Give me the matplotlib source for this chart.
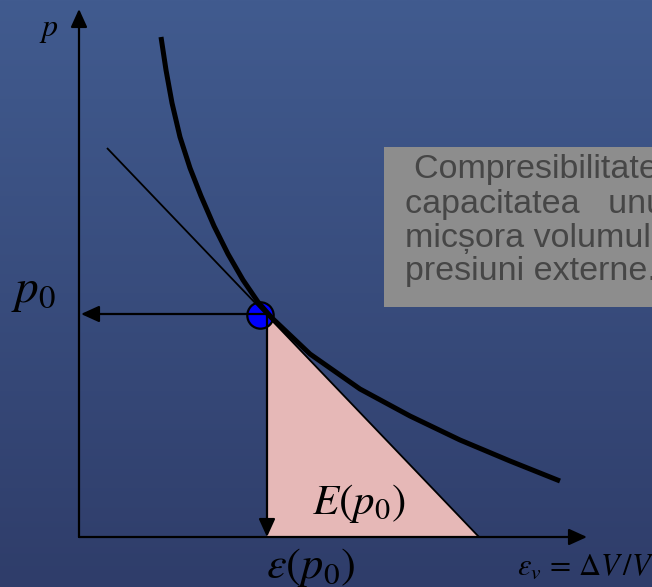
import numpy as np
import matplotlib
matplotlib.use("Agg")
import matplotlib.pyplot as plt
from matplotlib.patches import Rectangle, Polygon
from matplotlib.colors import LinearSegmentedColormap

plt.rcParams["mathtext.fontset"] = "stix"

# Compression curve p(eps_v), arbitrary units
curve_eps = [0.82, 0.87, 0.93, 1.01, 1.11, 1.22, 1.35, 1.49, 1.64, 1.79,
             1.93, 2.31, 2.81, 3.31, 3.81, 4.31, 4.81]
curve_p = [5.00, 4.67, 4.34, 4.00, 3.69, 3.41, 3.11, 2.83, 2.57, 2.35,
           2.19, 1.83, 1.48, 1.21, 0.97, 0.76, 0.56]

# State point (p0, eps(p0)) and its marker
marker_eps, marker_p = 1.81, 2.22
eps0, p0 = 1.88, 2.23

# Tangent to the curve at p0
tangent_eps = [0.28, 4.00]
tangent_p = [3.89, 0.00]

# Axis extents
x_end, y_end = 5.08, 5.28

# Text of the note box
note_lines = [
    "Compresibilitatea este o proprietate",
    "capacitatea   unui pământ de a-și",
    "micșora volumul sub acțiunea unor",
    "presiuni externe.",
]
note_x = [414, 405, 405, 405]
note_base = [178, 213, 247, 280]

W, H = 652, 587
fig = plt.figure(figsize=(W / 100, H / 100), dpi=100)
ax = fig.add_axes([0, 0, 1, 1])
xlim = (-0.79, 5.73)
ylim = (-0.50, 5.37)
ax.set_xlim(*xlim)
ax.set_ylim(*ylim)
ax.axis("off")

# background gradient
grad = np.linspace(0, 1, 256).reshape(-1, 1)
cmap = LinearSegmentedColormap.from_list("bg", ["#415b8f", "#2f3d6a"])
ax.imshow(grad, extent=[xlim[0], xlim[1], ylim[0], ylim[1]], origin="upper",
          cmap=cmap, aspect="auto", zorder=0)


def arrow(x0, y0, x1, y1, lw=1.5, z=5):
    ax.annotate("", xy=(x1, y1), xytext=(x0, y0),
                arrowprops=dict(arrowstyle="-|>,head_length=0.55,head_width=0.25",
                                mutation_scale=20, lw=lw, color="black",
                                shrinkA=0, shrinkB=0),
                zorder=z)


# modulus triangle under the tangent
slope = (tangent_p[1] - tangent_p[0]) / (tangent_eps[1] - tangent_eps[0])
p_top = tangent_p[0] + (eps0 - tangent_eps[0]) * slope
tri = Polygon([(eps0, p_top), (eps0, 0), (tangent_eps[1], 0)], closed=True,
              facecolor="#e6b8b7", edgecolor="none", zorder=2)
ax.add_patch(tri)

# state point (drawn under the lines)
ax.plot([marker_eps], [marker_p], "o", ms=19, mfc="#0000ff", mec="black",
        mew=1.6, zorder=3.5)

# axes with arrows
arrow(0, 0, x_end, 0, lw=1.6)
arrow(0, 0, 0, y_end, lw=1.6)

# tangent line
ax.plot(tangent_eps, tangent_p, color="black", lw=1.3, zorder=4,
        solid_capstyle="butt")

# compression curve
ax.plot(curve_eps, curve_p, color="black", lw=3.6, zorder=4,
        solid_capstyle="butt", solid_joinstyle="round")

# projections to the axes
arrow(eps0, p0, 0.02, p0, lw=1.6, z=6)
arrow(eps0, p_top, eps0, 0.0, lw=1.6, z=6)

# note box
ax.add_patch(Rectangle((384 / W, 1 - 307 / H), 0.5, 160 / H,
                       transform=ax.transAxes, facecolor="#8d8d8d",
                       edgecolor="none", zorder=3))
for line, x, y in zip(note_lines, note_x, note_base):
    ax.text(x / W, 1 - y / H, line, transform=ax.transAxes, ha="left",
            va="baseline", fontsize=24.5, family="Liberation Sans",
            color="#464646", zorder=4)

# labels
ax.text(39 / W, 1 - 36 / H, r"$p$", transform=ax.transAxes, fontsize=23,
        ha="left", va="baseline", zorder=6)
ax.text(11 / W, 1 - 302 / H, r"$p_0$", transform=ax.transAxes, fontsize=34,
        ha="left", va="baseline", zorder=6)
ax.text(312 / W, 1 - 514 / H, r"$E(p_0)$", transform=ax.transAxes, fontsize=31,
        ha="left", va="baseline", zorder=6)
ax.text(266 / W, 1 - 578 / H, r"$\varepsilon(p_0)$", transform=ax.transAxes,
        fontsize=32, ha="left", va="baseline", zorder=6)
ax.text(517 / W, 1 - 575 / H, r"$\varepsilon_v\,=\,\Delta V\,/V$",
        transform=ax.transAxes, fontsize=22, ha="left", va="baseline", zorder=6)

fig.savefig("out.png", dpi=100)
